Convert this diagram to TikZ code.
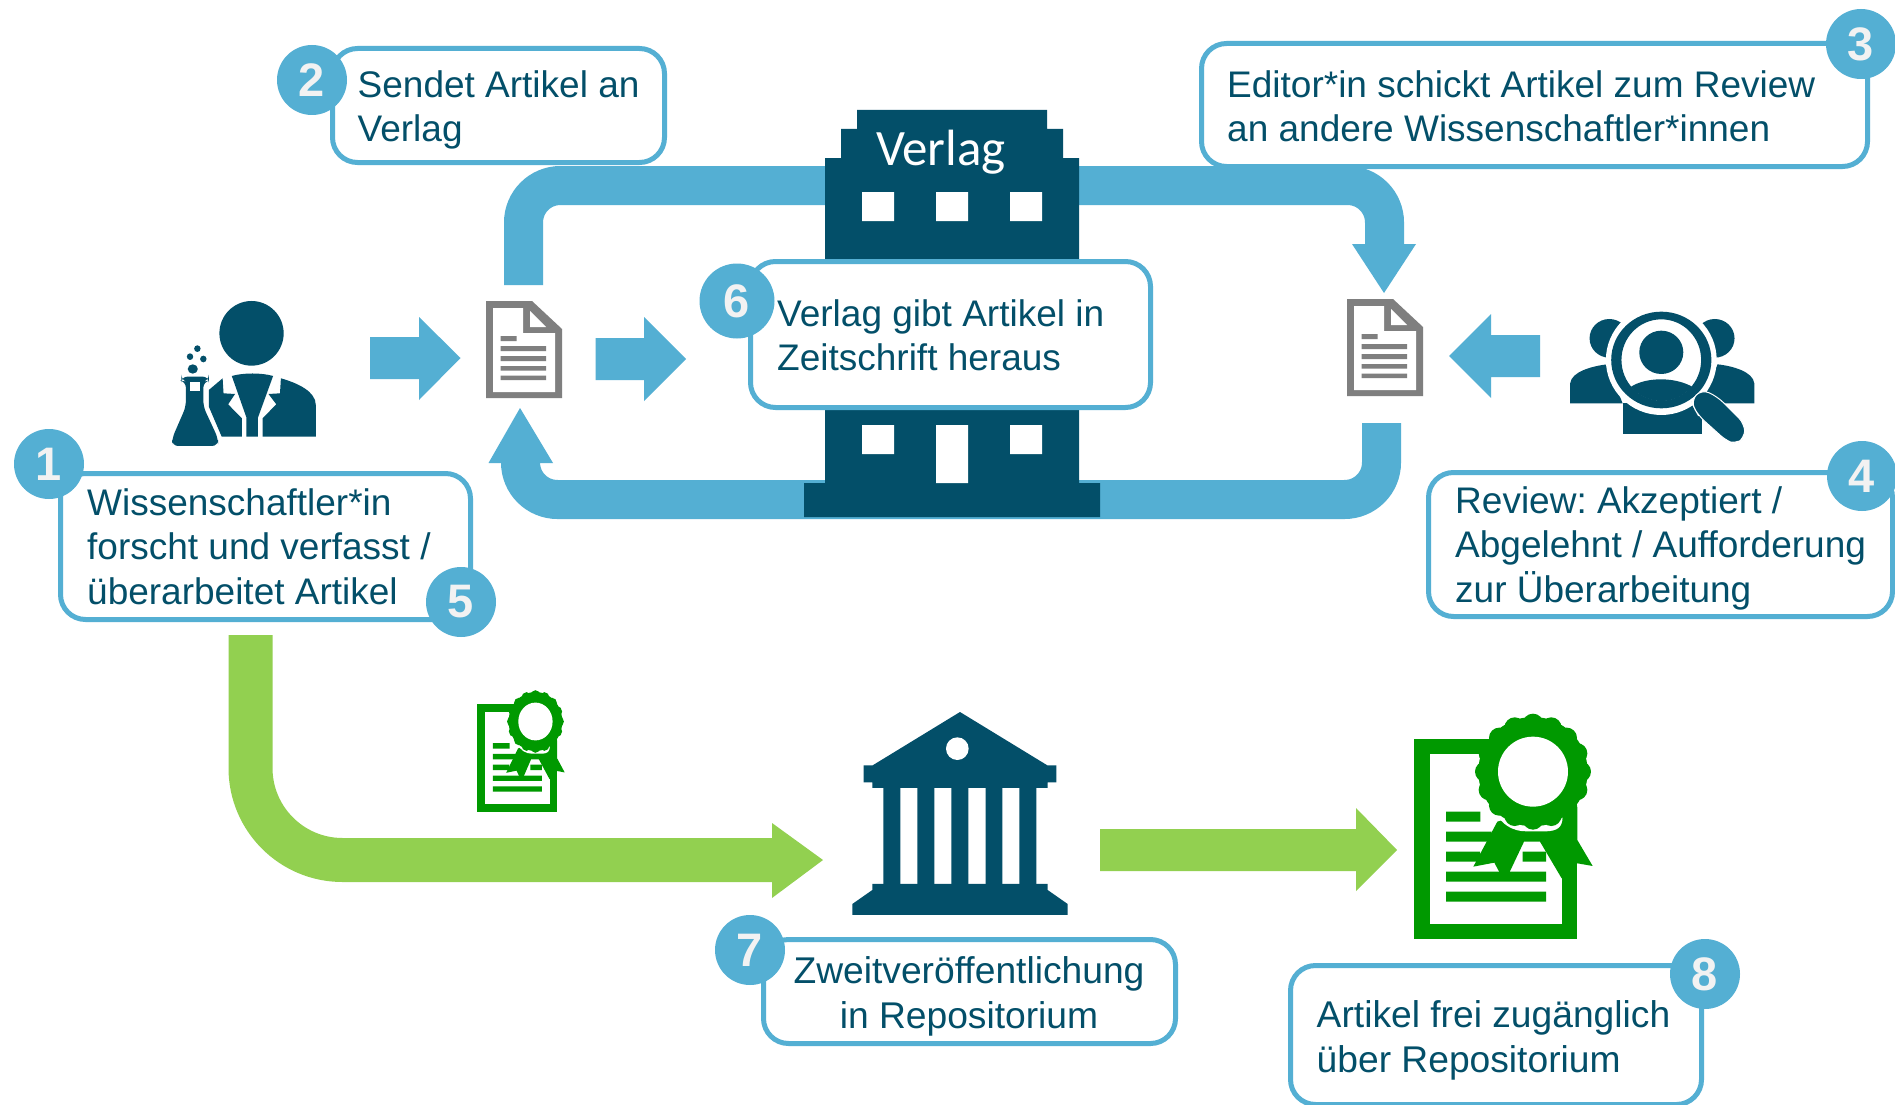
\documentclass[tikz,border=0pt]{standalone}
\usepackage{fontspec}
\setmainfont{Liberation Sans}
\newfontfamily\verlagfont{Carlito}
\definecolor{flowblue}{HTML}{54AFD3}
\definecolor{darkteal}{HTML}{034F69}
\definecolor{flowgreen}{HTML}{92D050}
\definecolor{certgreen}{HTML}{009900}
\definecolor{docgrey}{HTML}{7F7F7F}
\definecolor{numwhite}{HTML}{F2F2F2}
\tikzset{
	txtbox/.style={draw=flowblue, line width=5, fill=white, rounded corners=25, inner sep=0},
	boxtext/.style={text=darkteal, font=\fontsize{37}{44.3}\selectfont\frenchspacing, inner sep=0, anchor=base west, align=left},
	numdot/.style={circle, fill=flowblue, text=numwhite, minimum size=70, inner sep=0, font=\fontsize{47}{47}\selectfont\bfseries},
	blueline/.style={draw=flowblue, line width=39, rounded corners=37},
	greenline/.style={draw=flowgreen, line width=44, rounded corners=92},
	docicon/.pic={
		\fill[docgrey] (0,0) -- (46,0) -- (76,28) -- (76,97) -- (0,97) -- cycle;
		\fill[white] (7,7) -- (37,7) -- (37,32) -- (69,32) -- (69,91) -- (7,91) -- cycle;
		\fill[white] (44,10) -- (60,26) -- (44,26) -- cycle;
		\fill[docgrey] (14.5,35) rectangle (30.5,40) (14.5,45) rectangle (60,50) (14.5,55) rectangle (60,60)
			(14.5,65) rectangle (60,69.5) (14.5,74.5) rectangle (60,79);
	},
	certicon/.pic={
		\fill[certgreen] (103,118) rectangle (592,718);
		\fill[white] (151,162) rectangle (545,672);
		\fill[certgreen] (198,335) rectangle (301,365) (198,395) rectangle (335,425) (198,455) rectangle (300,485)
			(428,455) rectangle (498,485) (198,515) rectangle (498,545) (198,575) rectangle (498,605);
		\fill[certgreen] (352,365) -- (280,500) -- (343,488) -- (360,520) -- (388,518) -- (432,425) -- (480,425) -- (545,535)
			-- (592,490) -- (638,498) -- (592,420) -- (592,320) -- (500,320) -- cycle;
		\fill[white] (350,340) .. controls (362,372) and (400,395) .. (440,394) -- (500,394) .. controls (530,392) and (547,385) .. (548,350) -- cycle;
		\fill[certgreen] (459,215) circle (164);
		\foreach \a in {0,22.5,...,337.5} {\fill[certgreen] (459,215) ++(\a:143) circle (31);}
		\fill[white] (459,215) circle (105);
	}
}
\begin{document}
\begin{tikzpicture}[x=1pt,y=-1pt]
	\useasboundingbox (0,0) rectangle (1895,1105);
	\fill[white] (0,0) rectangle (1895,1105);

	\draw[blueline] (523.5,285) -- (523.5,185.5) -- (830,185.5);
	\draw[blueline] (1075,185.5) -- (1384.5,185.5) -- (1384.5,246);
	\fill[flowblue] (1352,244) -- (1416,244) -- (1384,293) -- cycle;
	\draw[blueline] (1381.5,423) -- (1381.5,499.5) -- (520.5,499.5) -- (520.5,460);
	\fill[flowblue] (488.5,463) -- (553,463) -- (520,408) -- cycle;
	\fill[flowblue] (370,337) -- (419,337) -- (419,317) -- (460.5,358) -- (419,400) -- (419,379) -- (370,379) -- cycle;
	\fill[flowblue] (595.5,338) -- (644,338) -- (644,317) -- (686,359) -- (644,401) -- (644,380) -- (595.5,380) -- cycle;
	\fill[flowblue] (1540,335) -- (1491,335) -- (1491,314) -- (1449,356) -- (1491,398) -- (1491,377) -- (1540,377) -- cycle;

	\fill[darkteal] (857,110) -- (1047,110) -- (1047,129) -- (1063,129) -- (1063,158) -- (1079,158) -- (1079,483)
		-- (1100,483) -- (1100,517) -- (804,517) -- (804,483) -- (825,483) -- (825,158) -- (841,158) -- (841,129) -- (857,129) -- cycle;
	\fill[white] (862,192) rectangle (894,221) (936,192) rectangle (968,221) (1010,192) rectangle (1042,221);
	\fill[white] (862,425) rectangle (894,454) (936,425) rectangle (968,483) (1010,425) rectangle (1042,454);
	\node[text=white, font=\verlagfont\fontsize{51}{51}\selectfont, inner sep=0, anchor=base] (verlag) at (941,165) {Verlag};

	\pic (doca) at (486,301) {docicon};
	\pic (docb) at (1347,299) {docicon};

	\begin{scope}[shift={(0,250)},xscale=.459,yscale=.3333]
		\fill[darkteal] (548,250) ellipse (70 and 97);
		\fill[darkteal] (455,420) -- (485,385) -- (487,430) -- (512,432) -- (497,463) -- (527,505) -- (527,560) -- (483,560) -- (455,470) -- cycle;
		\fill[darkteal] (505,378) .. controls (530,368) and (570,368) .. (595,378) -- (562,503) -- (562,560) -- (537,560) -- (537,503) -- cycle;
		\fill[darkteal] (612,385) .. controls (650,400) and (688,425) .. (688,465) -- (688,560) -- (572,560) -- (572,505) -- (602,463) -- (585,432) -- (610,430) -- cycle;
		\fill[darkteal, rounded corners=6] (395,380) -- (455,380) -- (455,392) -- (443,395) -- (443,470) -- (475,565) -- (475,588) -- (375,588) -- (375,565) -- (405,470) -- (405,395) -- (395,392) -- cycle;
		\fill[white] (415,395) rectangle (435,422);
		\fill[darkteal] (420,357) ellipse (11 and 14) (414,320) ellipse (7 and 10) (443,327) ellipse (7 and 10) (430,296) ellipse (7 and 10);
	\end{scope}

	\begin{scope}[shift={(1300,280)},xscale=.3795,yscale=.3333]
		\fill[darkteal] (815,175) ellipse (52 and 58) (1093,175) ellipse (52 and 58);
		\fill[darkteal] (712,370) -- (712,310) .. controls (715,275) and (770,258) .. (810,253) -- (850,370) -- cycle;
		\fill[darkteal] (1197,370) -- (1197,310) .. controls (1194,275) and (1140,258) .. (1100,253) -- (1060,370) -- cycle;
		\fill[darkteal] (850,462) -- (850,370) -- (1058,370) -- (1058,462) -- cycle;
		\fill[white] (952,240) ellipse (146 and 165);
		\fill[darkteal, even odd rule] (952,240) ellipse (132 and 145) (952,240) ellipse (105 and 122);
		\fill[darkteal] (952,217) ellipse (58 and 65);
		\begin{scope}
			\clip (952,240) ellipse (106 and 123);
			\fill[darkteal] (870,322) .. controls (910,290) and (990,290) .. (1036,322) -- (1070,400) -- (840,400) -- cycle;
		\end{scope}
		\filldraw[darkteal, draw=white, line width=1, rounded corners=8] (1030,362) -- (1058,328) -- (1100,350) -- (1172,432) -- (1172,474) -- (1148,492) -- (1125,484) -- (1050,407) -- (1040,387) -- cycle;
	\end{scope}

	\draw[greenline] (250.5,635) -- (250.5,860) -- (775,860);
	\fill[flowgreen] (772,823) -- (823,860) -- (772,898) -- cycle;
	\fill[flowgreen] (1100,829) -- (1356,829) -- (1356,808) -- (1397,850) -- (1356,891) -- (1356,871) -- (1100,871) -- cycle;

	\begin{scope}[shift={(820,690)},scale=.3333]
		\fill[darkteal] (420,66) -- (682,226) -- (709,226) -- (709,277) -- (683,277) -- (683,294) -- (157,294) -- (157,277) -- (131,277) -- (131,226) -- (158,226) -- cycle;
		\fill[white] (412,176) circle (34);
		\fill[darkteal] (190,294) rectangle (241,582) (292,294) rectangle (343,582) (394,294) rectangle (445,582) (497,294) rectangle (547,582) (598,294) rectangle (649,582);
		\fill[darkteal] (157,582) -- (683,582) -- (683,600) -- (743,642) -- (743,675) -- (97,675) -- (97,642) -- (157,600) -- cycle;
	\end{scope}

	\pic[xscale=.1633,yscale=.18] (certa) at (460.5,682.8) {certicon};
	\pic[scale=.3333] (certb) at (1380,700) {certicon};

	\node[txtbox, minimum width=410, minimum height=146] (box1) at (265.5,546.5) {};
	\node[txtbox, minimum width=332, minimum height=114] (box2) at (498.5,105.5) {};
	\node[txtbox, minimum width=666, minimum height=123] (box3) at (1534.5,105) {};
	\node[txtbox, minimum width=464, minimum height=144] (box4) at (1660.5,544.5) {};
	\node[txtbox, minimum width=400, minimum height=146] (box6) at (950.5,334.5) {};
	\node[txtbox, minimum width=412, minimum height=104] (box7) at (969.5,991.5) {};
	\node[txtbox, minimum width=411, minimum height=139] (box8) at (1496,1035) {};

	\node[boxtext] (txt1) at (87,604) {Wissenschaftler*in\\forscht und verfasst /\\überarbeitet Artikel};
	\node[boxtext] (txt2) at (357.5,142) {Sendet Artikel an\\Verlag};
	\node[boxtext] (txt3) at (1227,142) {Editor*in schickt Artikel zum Review\\an andere Wissenschaftler*innen};
	\node[boxtext] (txt4) at (1455,602) {Review: Akzeptiert /\\Abgelehnt / Aufforderung\\zur Überarbeitung};
	\node[boxtext] (txt6) at (777,370.3) {Verlag gibt Artikel in\\Zeitschrift heraus};
	\node[boxtext, anchor=base, align=center, font=\fontsize{37.2}{44.3}\selectfont] (txt7) at (969,1028) {Zweitveröffentlichung\\in Repositorium};
	\node[boxtext, font=\fontsize{37.2}{44.3}\selectfont] (txt8) at (1316.5,1072) {Artikel frei zugänglich\\über Repositorium};

	\node[numdot] (num1) at (49,464) {1};
	\node[numdot] (num2) at (312,80) {2};
	\node[numdot] (num3) at (1861,44) {3};
	\node[numdot] (num4) at (1862,476) {4};
	\node[numdot] (num5) at (461,602) {5};
	\node[numdot, minimum size=75] (num6) at (737,301) {6};
	\node[numdot] (num7) at (750,950) {7};
	\node[numdot] (num8) at (1705,974) {8};
\end{tikzpicture}
\end{document}
